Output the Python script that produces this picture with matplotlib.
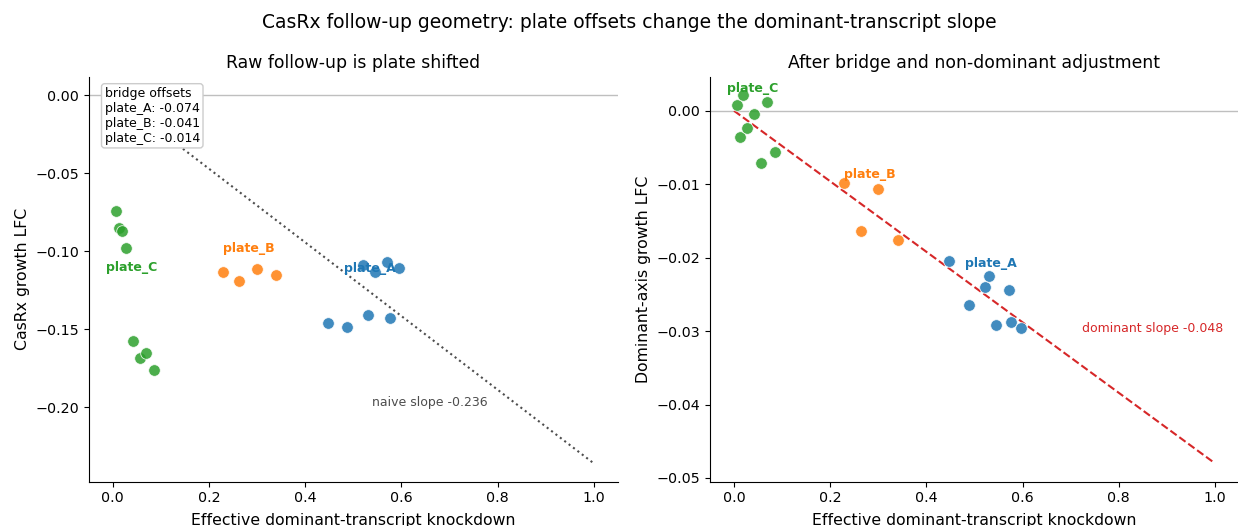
#!/usr/bin/env python3
"""CasRx follow-up geometry: raw vs adjusted dominant-transcript slope."""

import matplotlib.pyplot as plt
import numpy as np

plates = ["plate_A", "plate_B", "plate_C"]
colors = {"plate_A": "tab:blue", "plate_B": "tab:orange", "plate_C": "tab:green"}
bridge_offsets = {"plate_A": -0.074, "plate_B": -0.041, "plate_C": -0.014}

# knockdown per guide
kd_A = [0.447, 0.488, 0.521, 0.530, 0.545, 0.571, 0.576, 0.596]
kd_B = [0.229, 0.263, 0.300, 0.340]
kd_C = [0.006, 0.012, 0.019, 0.027, 0.042, 0.056, 0.069, 0.085]

# raw follow-up LFC
raw_A = [-0.1460, -0.1485, -0.1089, -0.1409, -0.1134, -0.1068, -0.1426, -0.1106]
raw_B = [-0.1136, -0.1189, -0.1113, -0.1153]
raw_C = [-0.0740, -0.0855, -0.0868, -0.0979, -0.1577, -0.1687, -0.1655, -0.1764]

# after bridge + non-dominant adjustment
adj_A = [-0.02045, -0.0265, -0.0240, -0.02245, -0.0292, -0.0244, -0.0287, -0.0296]
adj_B = [-0.00977, -0.0164, -0.0106, -0.0176]
adj_C = [0.00077, -0.00359, 0.00214, -0.00232, -0.00045, -0.00709, 0.00114, -0.00559]

naive_slope = -0.236
dominant_slope = -0.048

kd = {"plate_A": kd_A, "plate_B": kd_B, "plate_C": kd_C}
raw = {"plate_A": raw_A, "plate_B": raw_B, "plate_C": raw_C}
adj = {"plate_A": adj_A, "plate_B": adj_B, "plate_C": adj_C}

fig = plt.figure(figsize=(12.38, 5.26), dpi=100)
ax1 = fig.add_axes([0.0717, 0.0842, 0.4273, 0.770])
ax2 = fig.add_axes([0.5735, 0.0842, 0.4273, 0.770])

xx = np.array([0.0, 1.0])


def draw_panel(ax, ys, label_dy):
    ax.axhline(0, color="0.75", lw=1, zorder=0)
    for p in plates:
        ax.scatter(kd[p], ys[p], s=70, color=colors[p], alpha=0.85,
                   edgecolor="white", linewidth=0.6, zorder=3)
        ax.text(np.mean(kd[p]), np.mean(ys[p]) + label_dy, p, color=colors[p],
                fontsize=9, fontweight="bold", ha="center", va="center", zorder=4)
    ax.spines["top"].set_visible(False)
    ax.spines["right"].set_visible(False)
    ax.tick_params(labelsize=10.3)
    ax.set_xlabel("Effective dominant-transcript knockdown", fontsize=11.3, labelpad=5.5)


# left: raw
ax1.plot(xx, naive_slope * xx, color="0.3", ls=":", lw=1.5, zorder=1)
draw_panel(ax1, raw, 0.0163)
ax1.text(0.54, -0.197, f"naive slope {naive_slope:.3f}", color="0.3",
         fontsize=9, ha="left", va="center")
box_txt = "bridge offsets\n" + "\n".join(f"{p}: {bridge_offsets[p]:.3f}" for p in plates)
ax1.text(0.03, 0.975, box_txt, transform=ax1.transAxes, fontsize=9, va="top", ha="left",
         bbox=dict(boxstyle="round,pad=0.25", facecolor="white", edgecolor="0.8"))
ax1.set_ylabel("CasRx growth LFC", fontsize=11.3)
ax1.set_title("Raw follow-up is plate shifted", fontsize=12.4)

# right: adjusted
ax2.plot(xx, dominant_slope * xx, color="tab:red", ls="--", lw=1.5, zorder=1)
draw_panel(ax2, adj, 0.0049)
ax2.text(0.723, -0.0296, f"dominant slope {dominant_slope:.3f}", color="tab:red",
         fontsize=9, ha="left", va="center")
ax2.set_ylabel("Dominant-axis growth LFC", fontsize=11.3)
ax2.set_title("After bridge and non-dominant adjustment", fontsize=12.4)

fig.suptitle("CasRx follow-up geometry: plate offsets change the dominant-transcript slope",
             fontsize=13.5, x=0.508, y=0.975)
fig.savefig("out.png", dpi=100)
plt.close(fig)
